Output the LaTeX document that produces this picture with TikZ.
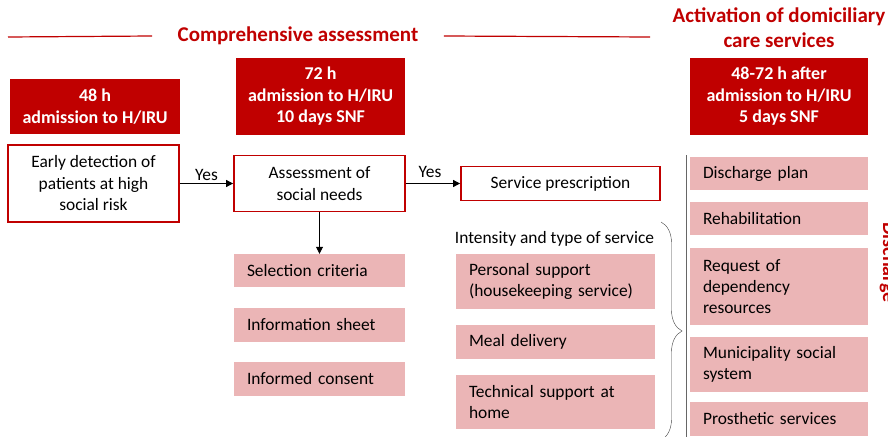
\documentclass[tikz,border=0pt]{standalone}
\usepackage{fontspec}
\setmainfont{Carlito}
\usetikzlibrary{arrows.meta, decorations.pathreplacing}

\definecolor{darkred}{HTML}{C00000}
\definecolor{rose}{HTML}{EBB5B6}

\begin{document}
\begin{tikzpicture}[x=1pt, y=-1pt]
	\tikzstyle{hbox}=[fill=darkred, text=white, font=\fontsize{18}{21.5}\selectfont\bfseries, align=center, inner sep=0pt];
	\tikzstyle{stepbox}=[draw=darkred, line width=1.8pt, fill=white, font=\fontsize{17.4}{21.5}\selectfont, align=center, inner sep=0pt];
	\tikzstyle{item}=[fill=rose, font=\fontsize{17.4}{21}\selectfont, align=left, inner xsep=13pt, inner ysep=0pt];
	\tikzstyle{flow}=[-{Triangle[length=7pt, width=7pt]}, thick];
	\tikzstyle{heading}=[text=darkred, font=\fontsize{21}{25}\selectfont\bfseries, align=center];

	\useasboundingbox (0, 0) rectangle (888, 436);
	\clip (0, 0) rectangle (888, 436);

	% headings
	\node[heading] (title) at (298, 36) {Comprehensive assessment};
	\node[heading] (title2) at (779, 28) {Activation of domiciliary\\care services};
	\draw[darkred, line width=1.2pt] (8, 37) -- ([xshift=-22pt]title.west);
	\draw[darkred, line width=1.2pt] ([xshift=22pt]title.east) -- (650, 37);

	% time windows
	\node[hbox, minimum width=170, minimum height=55] (t0) at (95, 106.5) {48 h\\admission to H/IRU};
	\node[hbox, minimum width=169, minimum height=77] (t1) at (320.5, 96.5) {72 h\\admission to H/IRU\\10 days SNF};
	\node[hbox, minimum width=178, minimum height=77] (t2) at (779, 96.5) {48-72 h after\\admission to H/IRU\\5 days SNF};

	% main steps
	\node[stepbox, minimum width=171, minimum height=77] (0) at (93.5, 183.5) {Early detection of\\patients at high\\social risk};
	\node[stepbox, minimum width=171, minimum height=56] (1) at (319.5, 183.5) {Assessment of\\social needs};
	\node[stepbox, minimum width=199, minimum height=34] (2) at (560.5, 183.5) {Service prescription};

	\draw[flow] (0) -- node[above, font=\fontsize{17.4}{21}\selectfont, yshift=-1pt] {Yes} (1);
	\draw[flow] (1) -- node[above, font=\fontsize{17.4}{21}\selectfont, xshift=-3pt, yshift=2pt] {Yes} (2);

	% assessment tools
	\node[item, text width=145, minimum height=33] (a1) at (319.5, 270.5) {Selection criteria};
	\node[item, text width=145, minimum height=34] (a2) at (319.5, 325) {Information sheet};
	\node[item, text width=145, minimum height=34] (a3) at (319.5, 379) {Informed consent};
	\draw[flow] (1) -- (a1);

	% services
	\node[font=\fontsize{17.4}{21}\selectfont] (s0) at (554.5, 239) {Intensity and type of service};
	\node[item, text width=173, minimum height=55] (s1) at (555.5, 281.5) {Personal support\\(housekeeping service)};
	\node[item, text width=173, minimum height=34] (s2) at (555.5, 342) {Meal delivery};
	\node[item, text width=173, minimum height=54] (s3) at (555.5, 402) {Technical support at\\home};

	\coordinate (bt) at (661, 222);
	\coordinate (bb) at (661, 440);
	\draw[black!75, decorate, decoration={brace, amplitude=21pt}] (bt) -- (bb);

	% discharge
	\coordinate (lt) at (686, 155);
	\coordinate (lb) at (686, 440);
	\draw[black!60, line width=0.8pt] (lt) -- (lb);
	\node[item, text width=152, minimum height=33] (d1) at (779, 173.5) {Discharge plan};
	\node[item, text width=152, minimum height=33] (d2) at (779, 218.5) {Rehabilitation};
	\node[item, text width=152, minimum height=77] (d3) at (779, 286.5) {Request of\\dependency\\resources};
	\node[item, text width=152, minimum height=55] (d4) at (779, 364.5) {Municipality social\\system};
	\node[item, text width=152, minimum height=34] (d5) at (779, 419) {Prosthetic services};
	\node[heading, font=\fontsize{20}{24}\selectfont\bfseries, rotate=-90, anchor=base west, inner sep=0pt] (dc) at (883, 222) {Discharge};
\end{tikzpicture}
\end{document}
